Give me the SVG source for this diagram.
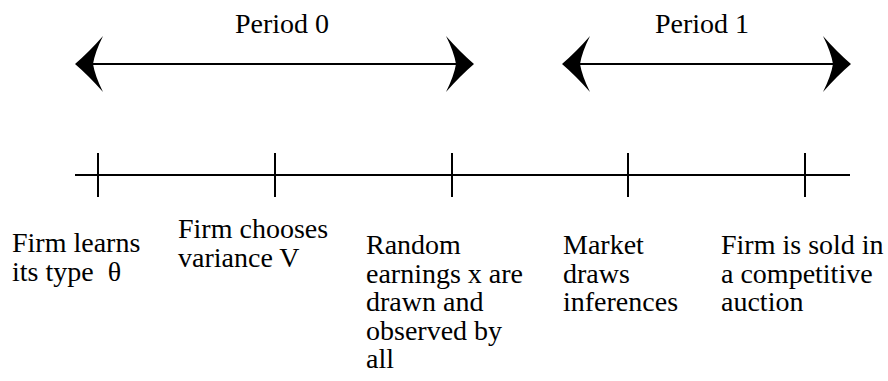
<svg xmlns="http://www.w3.org/2000/svg" xmlns:xlink="http://www.w3.org/1999/xlink" width="888" height="381" viewBox="0 0 888 381">
  <style>
    .t { font-family: "Liberation Serif", "Times New Roman", serif; font-size: 28px; fill: #000; }
    .ln { stroke: #000; stroke-width: 2; fill: none; }
    .hd { fill: #000; stroke: none; }
  </style>
  <defs>
    <path id="head" d="M0,0 Q14,-12 28,-28 Q20,-12 18,0 Q20,12 28,28 Q14,12 0,0 Z"/>
  </defs>
  <rect width="888" height="381" fill="#fff"/>

  <g id="connectors">
    <line class="ln" x1="90" y1="64" x2="460" y2="64"/>
    <use href="#head" class="hd" transform="translate(75,64)"/>
    <use href="#head" class="hd" transform="translate(474,64) scale(-1,1)"/>
    <line class="ln" x1="577" y1="64" x2="836" y2="64"/>
    <use href="#head" class="hd" transform="translate(562,64)"/>
    <use href="#head" class="hd" transform="translate(851,64) scale(-1,1)"/>
    <line class="ln" x1="75" y1="175" x2="850" y2="175"/>
  </g>

  <g id="period0"><text class="t" x="235" y="33">Period 0</text></g>
  <g id="period1"><text class="t" x="655" y="33">Period 1</text></g>

  <g id="event1">
    <line class="ln" x1="98" y1="153" x2="98" y2="197"/>
    <text class="t" x="12" y="252">Firm learns</text>
    <text class="t" x="12" y="281" xml:space="preserve">its type  θ</text>
  </g>
  <g id="event2">
    <line class="ln" x1="275" y1="153" x2="275" y2="197"/>
    <text class="t" x="178" y="238">Firm chooses</text>
    <text class="t" x="178" y="267">variance V</text>
  </g>
  <g id="event3">
    <line class="ln" x1="452" y1="153" x2="452" y2="197"/>
    <text class="t" x="366" y="254">Random</text>
    <text class="t" x="366" y="283">earnings x are</text>
    <text class="t" x="366" y="311">drawn and</text>
    <text class="t" x="366" y="340">observed by</text>
    <text class="t" x="366" y="368">all</text>
  </g>
  <g id="event4">
    <line class="ln" x1="628" y1="153" x2="628" y2="197"/>
    <text class="t" x="563" y="254">Market</text>
    <text class="t" x="563" y="283">draws</text>
    <text class="t" x="563" y="311">inferences</text>
  </g>
  <g id="event5">
    <line class="ln" x1="805" y1="153" x2="805" y2="197"/>
    <text class="t" x="721" y="254">Firm is sold in</text>
    <text class="t" x="721" y="283">a competitive</text>
    <text class="t" x="721" y="311">auction</text>
  </g>
</svg>
